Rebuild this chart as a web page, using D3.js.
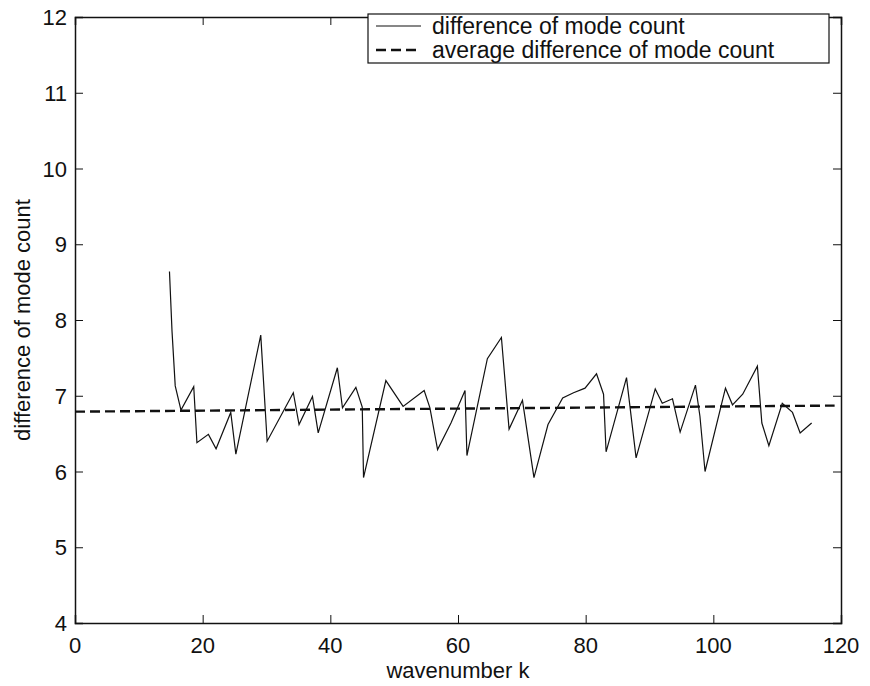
<!DOCTYPE html>
<html>
<head>
<meta charset="utf-8">
<script src="https://cdn.jsdelivr.net/npm/d3@7"></script>
<style>
  body { margin: 0; background: #fff; }
  svg { font-family: "Liberation Sans", Arial, sans-serif; }
</style>
</head>
<body>
<svg id="canvas" width="870" height="686"></svg>
<script>
// values
let wavenumbers = [14.8, 15.2, 15.7, 16.6, 18.6, 19.1, 20.9, 22.1, 24.4, 25.2,
  29.1, 30.1, 34.2, 35.1, 37.2, 38.1, 41.1, 41.9, 44.0, 45.0,
  45.2, 48.7, 51.4, 54.7, 55.6, 56.8, 58.9, 61.1, 61.4, 64.6,
  66.8, 68.0, 70.1, 71.9, 74.1, 76.4, 78.1, 79.9, 81.7, 82.8,
  83.2, 86.4, 87.9, 90.9, 92.0, 93.6, 94.8, 97.2, 97.9, 98.7,
  101.9, 103.0, 104.6, 106.9, 107.6, 108.7, 110.8, 112.4, 113.6, 115.4]

let modeDiff = [8.64, 7.85, 7.13, 6.81, 7.12, 6.38, 6.49, 6.30, 6.78, 6.23,
  7.80, 6.40, 7.04, 6.62, 6.99, 6.51, 7.37, 6.84, 7.11, 6.85,
  5.92, 7.20, 6.86, 7.07, 6.84, 6.29, 6.64, 7.07, 6.21, 7.49,
  7.77, 6.56, 6.94, 5.92, 6.62, 6.97, 7.04, 7.10, 7.29, 7.02,
  6.26, 7.24, 6.18, 7.09, 6.90, 6.96, 6.52, 7.14, 6.73, 6.00,
  7.10, 6.88, 7.02, 7.39, 6.64, 6.34, 6.90, 6.78, 6.51, 6.64]

let avgK = [0, 119]
let avgDiff = [6.79, 6.87]

let xTicks = [0, 20, 40, 60, 80, 100, 120]
let yTicks = [4, 5, 6, 7, 8, 9, 10, 11, 12]
let legendLabels = ['difference of mode count', 'average difference of mode count']

let canvas = d3.select('#canvas')

// plot box (pixels)
let plotL = 75, plotR = 841, plotT = 17, plotB = 623

let xScale = d3.scaleLinear().domain([0, 120]).range([plotL, plotR])
let yScale = d3.scaleLinear().domain([4, 12]).range([plotB, plotT])

// box + inward ticks on all four sides (matlab style)
canvas.append('g')
  .attr('transform', `translate(0,${plotB})`)
  .call(d3.axisTop(xScale).tickValues(xTicks).tickSize(8).tickFormat(''))
canvas.append('g')
  .attr('transform', `translate(0,${plotT})`)
  .call(d3.axisBottom(xScale).tickValues(xTicks).tickSize(8).tickFormat(''))
canvas.append('g')
  .attr('transform', `translate(${plotL},0)`)
  .call(d3.axisRight(yScale).tickValues(yTicks).tickSize(8).tickFormat(''))
canvas.append('g')
  .attr('transform', `translate(${plotR},0)`)
  .call(d3.axisLeft(yScale).tickValues(yTicks).tickSize(8).tickFormat(''))

canvas.selectAll('.domain').attr('stroke', '#111').attr('stroke-width', 1.5)
canvas.selectAll('.tick line').attr('stroke', '#111')

// tick labels
canvas.append('g').selectAll('text')
  .data(xTicks)
  .enter()
  .append('text')
  .attr('x', d => xScale(d))
  .attr('y', plotB + 30)
  .attr('text-anchor', 'middle')
  .attr('font-size', 22)
  .attr('fill', '#111')
  .text(d => d)

canvas.append('g').selectAll('text')
  .data(yTicks)
  .enter()
  .append('text')
  .attr('x', plotL - 8)
  .attr('y', d => yScale(d) + 8)
  .attr('text-anchor', 'end')
  .attr('font-size', 22)
  .attr('fill', '#111')
  .text(d => d)

// axis titles
canvas.append('text')
  .attr('x', (plotL + plotR) / 2)
  .attr('y', 678)
  .attr('text-anchor', 'middle')
  .attr('font-size', 22)
  .attr('fill', '#111')
  .text('wavenumber k')

canvas.append('text')
  .attr('transform', `translate(30,${(plotT + plotB) / 2}) rotate(-90)`)
  .attr('text-anchor', 'middle')
  .attr('font-size', 22)
  .attr('fill', '#111')
  .text('difference of mode count')

// lines
let line = d3.line()
  .x(d => xScale(d[0]))
  .y(d => yScale(d[1]))

canvas.append('path')
  .datum(d3.zip(avgK, avgDiff))
  .attr('d', line)
  .attr('fill', 'none')
  .attr('stroke', '#111')
  .attr('stroke-width', 2.4)
  .attr('stroke-dasharray', '10,5')

canvas.append('path')
  .datum(d3.zip(wavenumbers, modeDiff))
  .attr('d', line)
  .attr('fill', 'none')
  .attr('stroke', '#111')
  .attr('stroke-width', 1.2)
  .attr('stroke-linejoin', 'miter')

// legend
let legend = canvas.append('g')
legend.append('rect')
  .attr('x', 368)
  .attr('y', 14)
  .attr('width', 461)
  .attr('height', 49)
  .attr('fill', '#fff')
  .attr('stroke', '#111')
  .attr('stroke-width', 1.2)

legendLabels.forEach((label, i) => {
  let y = 26 + i * 24
  legend.append('line')
    .attr('x1', 376).attr('x2', 421)
    .attr('y1', y).attr('y2', y)
    .attr('stroke', '#111')
    .attr('stroke-width', i == 0 ? 1.2 : 2.4)
    .attr('stroke-dasharray', i == 0 ? null : '10,5')
  legend.append('text')
    .attr('x', 432)
    .attr('y', y + 8)
    .attr('font-size', 23)
    .attr('fill', '#111')
    .text(label)
})
</script>
</body>
</html>
